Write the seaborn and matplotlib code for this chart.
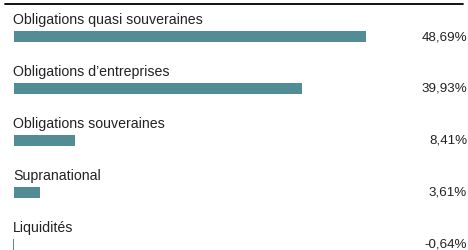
import matplotlib
matplotlib.use("Agg")
import matplotlib.pyplot as plt
import matplotlib.transforms as mtransforms
from matplotlib.lines import Line2D
import seaborn as sns
import pandas as pd

categories = ["Obligations quasi souveraines", "Obligations d\u2019entreprises",
              "Obligations souveraines", "Supranational", "Liquidit\u00e9s"]
values = [48.69, 39.93, 8.41, 3.61, -0.64]
value_labels = ["48,69%", "39,93%", "8,41%", "3,61%", "-0,64%"]

sns.set_theme(style="white")
plt.rcParams["font.family"] = ["Liberation Sans", "DejaVu Sans"]

W, H = 468, 250
fig = plt.figure(figsize=(W / 100, H / 100), dpi=100)
ax = fig.add_axes([13 / W, 0, 1 - 13 / W, 1])

df = pd.DataFrame({"cat": categories, "val": values})
sns.barplot(data=df, x="val", y="cat", orient="h", color="#528c94",
            saturation=1, width=0.212, linewidth=0, ax=ax)

pitch = 51.9
ax.set_ylim((H - 36.5) / pitch, -36.5 / pitch)
scale = 7.22  # px per percent
ax.set_xlim(-1.0 / scale, (W - 13 - 1.0) / scale)
ax.axis("off")

blend = mtransforms.blended_transform_factory(ax.transAxes, ax.transData)
for i, (c, lab) in enumerate(zip(categories, value_labels)):
    ax.text(0, i - 12.5 / pitch, c, transform=blend,
            ha="left", va="baseline", fontsize=10.2, color="#222222")
    ax.text(1 - 1 / (W - 13), i + 3.5 / pitch, lab, transform=blend,
            ha="right", va="baseline", fontsize=9.6, color="#222222")

fig.add_artist(Line2D([5 / W, 463 / W], [1 - 4 / H, 1 - 4 / H], color="black",
                      linewidth=1.3, transform=fig.transFigure))

fig.savefig("out.png", dpi=100)
